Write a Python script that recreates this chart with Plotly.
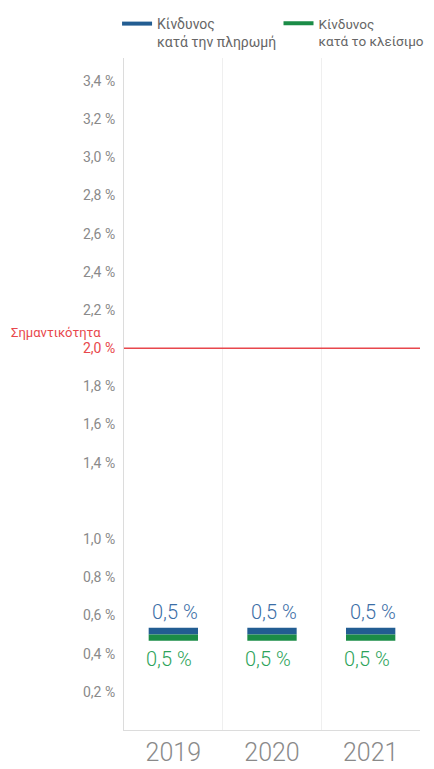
import plotly.graph_objects as go

# data
years = ["2019", "2020", "2021"]
risk_payment = [0.5, 0.5, 0.5]
risk_closing = [0.5, 0.5, 0.5]
threshold = 2.0
tick_values = [0.2, 0.4, 0.6, 0.8, 1.0, 1.4, 1.6, 1.8, 2.0, 2.2, 2.4, 2.6, 2.8, 3.0, 3.2, 3.4]
tick_labels = ["0,2 %", "0,4 %", "0,6 %", "0,8 %", "1,0 %", "1,4 %", "1,6 %", "1,8 %",
               "2,0 %", "2,2 %", "2,4 %", "2,6 %", "2,8 %", "3,0 %", "3,2 %", "3,4 %"]

BLUE = "#225d92"
GREEN = "#1b8c47"
BLUE_TXT = "#3b6ea6"
GREEN_TXT = "#2da35a"
RED = "#e8474c"
GREY = "#8a8a8a"
FONT = "Roboto"

fig = go.Figure()

# thin markers drawn as bars sitting on / hanging from the value
fig.add_trace(go.Bar(x=years, y=[0.036] * len(years), base=risk_payment,
                     marker=dict(color=BLUE, line=dict(width=0)), width=0.5,
                     showlegend=False, hoverinfo="skip"))
fig.add_trace(go.Bar(x=years, y=[-0.032] * len(years), base=risk_closing,
                     marker=dict(color=GREEN, line=dict(width=0)), width=0.5,
                     showlegend=False, hoverinfo="skip"))

# legend entries (one legend each so they can sit where the reference has them)
fig.add_trace(go.Scatter(x=[years[0]], y=[None], mode="lines", line=dict(color=BLUE, width=4),
                         name="Κίνδυνος<br>κατά την πληρωμή", legend="legend"))
fig.add_trace(go.Scatter(x=[years[0]], y=[None], mode="lines", line=dict(color=GREEN, width=4),
                         name="Κίνδυνος<br>κατά το κλείσιμο", legend="legend2"))

# value labels (x given as category index)
for i, v in enumerate(risk_payment):
    fig.add_annotation(x=i, y=v, text=str(v).replace(".", ",") + " %", showarrow=False,
                       yshift=23, xshift=2, font=dict(family=FONT, size=20, color=BLUE_TXT, weight=300))
for i, v in enumerate(risk_closing):
    fig.add_annotation(x=i, y=v, text=str(v).replace(".", ",") + " %", showarrow=False,
                       yshift=-24, xshift=-4, font=dict(family=FONT, size=20, color=GREEN_TXT, weight=300))

# materiality threshold
fig.add_shape(type="line", xref="paper", x0=0, x1=1, y0=threshold, y1=threshold,
              line=dict(color=RED, width=1.5))
fig.add_annotation(xref="paper", x=0, y=threshold, text="Σημαντικότητα", showarrow=False,
                   xanchor="right", xshift=-21, yshift=16,
                   font=dict(family=FONT, size=13, color=RED))

ticktext = [f"<span style='color:{RED}'>{t}</span>" if v == threshold else t
            for v, t in zip(tick_values, tick_labels)]

legend_style = dict(orientation="h", xref="container", yref="container",
                    yanchor="top", xanchor="left", valign="top", itemwidth=30,
                    bgcolor="rgba(0,0,0,0)")

# page body adds an 8px offset, so the figure is 8px smaller than the window
fig.update_layout(
    width=426, height=761,
    margin=dict(l=116, r=14, t=50, b=39),
    plot_bgcolor="white", paper_bgcolor="white",
    barmode="overlay",
    font=dict(family=FONT, color=GREY),
    legend=dict(x=0.256, y=1.0, font=dict(family=FONT, size=14, color="#666666"), **legend_style),
    legend2=dict(x=0.635, y=1.0, font=dict(family=FONT, size=13.5, color="#666666"), **legend_style),
    xaxis=dict(type="category", categoryorder="array", categoryarray=years, range=[-0.5, 2.5],
               tickson="boundaries", showgrid=True, gridcolor="#efefef", tickangle=0,
               showline=True, linecolor="#dcdcdc", ticks="", automargin=False,
               tickfont=dict(family=FONT, size=25, color=GREY, weight=300), ticklabelstandoff=0),
    yaxis=dict(range=[0, 3.52], tickvals=tick_values, ticktext=ticktext, showgrid=False,
               zeroline=False, showline=True, linecolor="#dcdcdc", ticks="", automargin=False,
               tickfont=dict(family=FONT, size=14, color=GREY), ticklabelstandoff=5),
)

fig.write_html("out.html")
